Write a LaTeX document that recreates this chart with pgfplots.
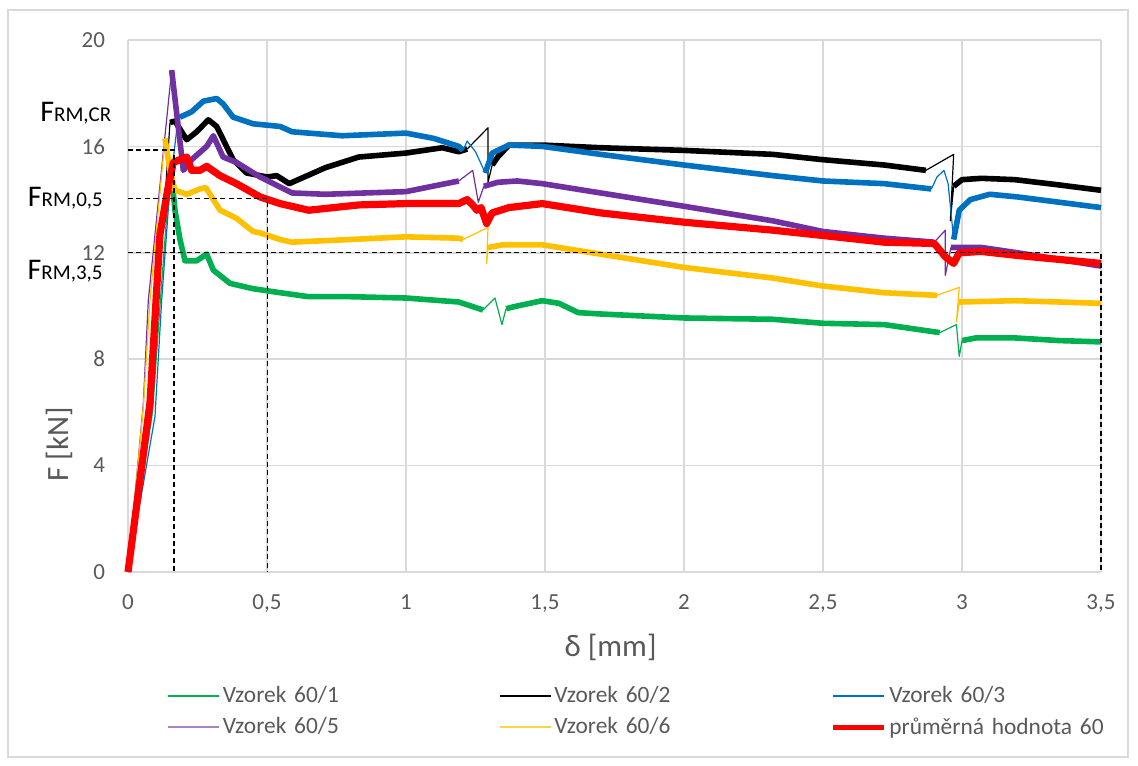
\documentclass[border=0pt]{standalone}
\usepackage{pgfplots}
\pgfplotsset{compat=1.18}
\usepackage{fontspec}
\setmainfont{Carlito}
\definecolor{cGreen}{HTML}{00B050}
\definecolor{cBlue}{HTML}{0070C0}
\definecolor{cPurple}{HTML}{7030A0}
\definecolor{cYellow}{HTML}{FFC000}
\definecolor{cRed}{HTML}{FF0000}
\definecolor{cGrid}{HTML}{D9D9D9}
\definecolor{cText}{HTML}{595959}
\pgfplotsset{
  thinseg/.style={line width=0.6pt, line join=round, forget plot},
  noisy/.style={line width=2.8pt, line join=round, forget plot},
}
\begin{document}
\begin{tikzpicture}[x=1pt,y=1pt]
\useasboundingbox (0,0) rectangle (569,382.5);
\draw[cGrid, line width=0.6pt] (4,4) rectangle (564,377.5);
\begin{axis}[
  scale only axis, width=486.5pt, height=266pt,
  at={(64pt,96.5pt)}, anchor=south west,
  xmin=0, xmax=3.5, ymin=0, ymax=20,
  xtick={0,0.5,1,1.5,2,2.5,3,3.5},
  ytick={0,4,8,12,16,20},
  grid=major, major grid style={cGrid, line width=0.8pt},
  axis line style={draw=none},
  major tick length=0pt, tick style={draw=none},
  /pgf/number format/use comma,
  /pgf/number format/1000 sep={},
  /pgf/number format/assume math mode=true,
  ticklabel style={font=\fontsize{11.5}{13}\selectfont, text=cText},
  xticklabel style={yshift=-8pt},
  yticklabel style={xshift=-8pt},
  xlabel={δ [mm]}, ylabel={F [kN]},
  label style={font=\fontsize{15.5}{18}\selectfont, text=cText},
  xlabel style={at={(axis description cs:0.496,-0.141)}, anchor=center},
  ylabel style={at={(axis description cs:-0.07,0.24)}, anchor=center},
  clip=false,
  legend columns=3, legend cell align=left,
  legend image code/.code={\draw[#1] (0pt,0pt) -- (25.5pt,0pt);},
  legend style={draw=none, fill=none, at={(axis description cs:0.0336,-0.199)}, anchor=north west,
    font=\fontsize{11.7}{14}\selectfont, text=cText, column sep=0pt, row sep=2pt,
    nodes={inner ysep=2pt, inner xsep=1.4pt},
    /tikz/every even column/.append style={text width=136.5pt, align=left}},
]
% ---------- Vzorek 60/1 (green)
\addplot[cGreen, thinseg] coordinates {(0,0) (0.088,6.0) (0.115,10.0) (0.14,13.5) (0.158,14.8)};
\addplot[cGreen, noisy] coordinates {(0.158,14.8) (0.169,13.6) (0.187,12.5) (0.205,11.7) (0.247,11.7) (0.283,11.95) (0.307,11.35) (0.367,10.85) (0.45,10.65) (0.547,10.5) (0.65,10.35) (0.8,10.35) (1.0,10.3) (1.19,10.15) (1.277,9.85)};
\addplot[cGreen, thinseg] coordinates {(1.277,9.85) (1.32,10.3) (1.345,9.3) (1.36,9.9)};
\addplot[cGreen, noisy] coordinates {(1.36,9.9) (1.40,10.0) (1.49,10.2) (1.55,10.1) (1.62,9.75) (1.70,9.7) (2.0,9.55) (2.32,9.5) (2.5,9.35) (2.72,9.3) (2.92,9.0)};
\addplot[cGreen, thinseg] coordinates {(2.92,9.0) (2.98,9.3) (2.99,8.1) (3.0,8.7)};
\addplot[cGreen, noisy] coordinates {(3.0,8.7) (3.05,8.8) (3.19,8.8) (3.35,8.7) (3.5,8.65)};
% ---------- Vzorek 60/2 (black)
\addplot[black, thinseg] coordinates {(0,0) (0.08,6.0) (0.13,13.5) (0.151,16.9)};
\addplot[black, noisy] coordinates {(0.151,16.9) (0.169,16.95) (0.193,16.55) (0.211,16.25) (0.247,16.55) (0.289,17.0) (0.319,16.75) (0.378,15.5) (0.427,15.0) (0.5,14.85) (0.535,14.9) (0.58,14.6) (0.71,15.2) (0.83,15.6) (1.0,15.75) (1.13,15.95) (1.19,15.8) (1.22,15.9)};
\addplot[black, thinseg] coordinates {(1.22,15.9) (1.295,16.7) (1.295,14.65) (1.31,15.3)};
\addplot[black, noisy] coordinates {(1.31,15.3) (1.33,15.6) (1.37,16.05) (1.49,16.05) (1.70,15.95) (2.0,15.85) (2.32,15.7) (2.5,15.5) (2.72,15.3) (2.87,15.1)};
\addplot[black, thinseg] coordinates {(2.87,15.1) (2.97,15.7) (2.958,13.2) (2.97,14.5)};
\addplot[black, noisy] coordinates {(2.97,14.5) (3.0,14.75) (3.07,14.8) (3.19,14.75) (3.35,14.55) (3.5,14.35)};
% ---------- Vzorek 60/3 (blue)
\addplot[cBlue, thinseg] coordinates {(0,0) (0.097,5.84) (0.121,10.2) (0.151,14.5) (0.175,16.6) (0.187,17.1)};
\addplot[cBlue, noisy] coordinates {(0.187,17.1) (0.229,17.3) (0.271,17.7) (0.319,17.8) (0.342,17.6) (0.378,17.1) (0.45,16.85) (0.547,16.75) (0.59,16.55) (0.77,16.4) (1.0,16.5) (1.1,16.3) (1.19,16.0) (1.205,15.85)};
\addplot[cBlue, thinseg] coordinates {(1.205,15.85) (1.22,16.2) (1.25,15.8) (1.285,15.0)};
\addplot[cBlue, noisy] coordinates {(1.285,15.0) (1.31,15.75) (1.37,16.05) (1.49,16.0) (1.70,15.7) (2.0,15.3) (2.32,14.9) (2.5,14.7) (2.72,14.6) (2.89,14.4)};
\addplot[cBlue, thinseg] coordinates {(2.89,14.4) (2.91,14.85) (2.935,15.1) (2.95,14.6) (2.97,12.5)};
\addplot[cBlue, noisy] coordinates {(2.97,12.5) (2.99,13.6) (3.03,14.0) (3.1,14.2) (3.2,14.1) (3.35,13.9) (3.5,13.7)};
% ---------- Vzorek 60/5 (purple)
\addplot[cPurple, thinseg] coordinates {(0,0) (0.055,6.3) (0.073,10.2) (0.157,18.87)};
\addplot[cPurple, noisy] coordinates {(0.157,18.87) (0.199,15.1) (0.229,15.5) (0.283,16.0) (0.307,16.4) (0.342,15.6) (0.39,15.4) (0.475,14.85) (0.59,14.25) (0.71,14.2) (1.0,14.3) (1.19,14.7)};
\addplot[cPurple, thinseg] coordinates {(1.19,14.7) (1.24,15.1) (1.26,13.9) (1.28,14.5)};
\addplot[cPurple, noisy] coordinates {(1.28,14.5) (1.33,14.65) (1.40,14.7) (1.49,14.6) (1.70,14.25) (2.0,13.75) (2.32,13.2) (2.5,12.8) (2.72,12.55) (2.9,12.4)};
\addplot[cPurple, thinseg] coordinates {(2.9,12.4) (2.94,12.85) (2.94,11.15) (2.96,12.2)};
\addplot[cPurple, noisy] coordinates {(2.96,12.2) (3.07,12.2) (3.2,12.0) (3.35,11.75) (3.5,11.5)};
% ---------- Vzorek 60/6 (yellow)
\addplot[cYellow, thinseg] coordinates {(0,0) (0.055,6.2) (0.079,10.2) (0.133,16.3)};
\addplot[cYellow, noisy] coordinates {(0.133,16.3) (0.151,15.1) (0.169,14.35) (0.211,14.2) (0.259,14.4) (0.28,14.45) (0.331,13.6) (0.39,13.3) (0.45,12.8) (0.475,12.75) (0.547,12.5) (0.59,12.4) (0.8,12.5) (1.0,12.6) (1.19,12.55) (1.205,12.5)};
\addplot[cYellow, thinseg] coordinates {(1.205,12.5) (1.295,12.95) (1.29,11.6) (1.295,12.2)};
\addplot[cYellow, noisy] coordinates {(1.295,12.2) (1.35,12.3) (1.49,12.3) (1.70,11.95) (2.0,11.45) (2.32,11.05) (2.5,10.75) (2.72,10.5) (2.91,10.4)};
\addplot[cYellow, thinseg] coordinates {(2.91,10.4) (2.99,10.7) (2.98,9.4) (2.99,10.15)};
\addplot[cYellow, noisy] coordinates {(2.99,10.15) (3.19,10.2) (3.35,10.15) (3.5,10.1)};
% ---------- average (red)
\addplot[cRed, line width=3.6pt, line join=round, forget plot] coordinates {(0,0) (0.079,6.35) (0.115,12.7) (0.145,14.5) (0.163,15.4) (0.211,15.6) (0.229,15.1) (0.259,15.1) (0.283,15.25) (0.331,14.9) (0.39,14.6) (0.475,14.1) (0.547,13.85) (0.65,13.6) (0.83,13.8) (1.0,13.85) (1.19,13.85) (1.22,14.0) (1.24,13.8) (1.255,13.6) (1.27,13.7) (1.29,13.1) (1.31,13.5) (1.37,13.7) (1.49,13.85) (1.70,13.5) (2.0,13.15) (2.32,12.85) (2.5,12.65) (2.72,12.4) (2.9,12.35) (2.94,11.85) (2.97,11.6) (2.99,12.0) (3.07,12.05) (3.2,11.9) (3.5,11.6)};
% ---------- dashed reference lines
\addplot[black, line width=0.65pt, dash pattern=on 2.5pt off 1.7pt, forget plot] coordinates {(0,15.86) (0.165,15.86) (0.165,0)};
\addplot[black, line width=0.65pt, dash pattern=on 2.5pt off 1.7pt, forget plot] coordinates {(0,14.05) (0.502,14.05) (0.502,0)};
\addplot[black, line width=0.65pt, dash pattern=on 2.5pt off 1.7pt, forget plot] coordinates {(0,12.0) (3.5,12.0) (3.5,0)};
% ---------- legend
\addlegendimage{cGreen, line width=0.75pt}\addlegendentry{Vzorek 60/1}
\addlegendimage{black, line width=0.75pt}\addlegendentry{Vzorek 60/2}
\addlegendimage{cBlue, line width=0.75pt}\addlegendentry{Vzorek 60/3}
\addlegendimage{cPurple!60, line width=1pt}\addlegendentry{Vzorek 60/5}
\addlegendimage{cYellow!70, line width=1pt}\addlegendentry{Vzorek 60/6}
\addlegendimage{cRed, line width=2.6pt}\addlegendentry{průměrná hodnota 60}
% ---------- F labels
\node[anchor=base east, inner sep=0pt] at (axis cs:-0.0586,16.95) {\fontsize{15}{16}\selectfont F\fontsize{10.5}{12}\selectfont RM,CR};
\node[anchor=base east, inner sep=0pt] at (axis cs:-0.089,13.73) {\fontsize{15}{16}\selectfont F\fontsize{10.5}{12}\selectfont RM,0,5};
\node[anchor=base east, inner sep=0pt] at (axis cs:-0.090,10.98) {\fontsize{15}{16}\selectfont F\fontsize{10.5}{12}\selectfont RM,3,5};
\end{axis}
\end{tikzpicture}
\end{document}
